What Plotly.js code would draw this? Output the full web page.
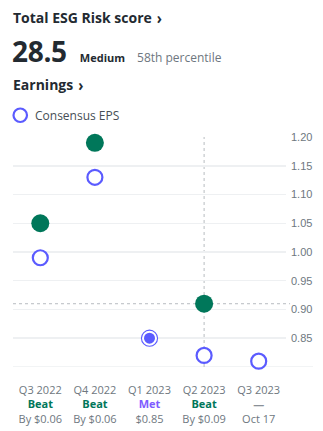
<!DOCTYPE html>
<html>
<head>
<meta charset="utf-8">
<script src="https://cdn.plot.ly/plotly-3.0.1.min.js"></script>
<style>
  html, body { margin:0; padding:0; background:#fff; width:323px; height:431px; overflow:hidden; }
  #wrap { position:relative; width:323px; height:431px; }
  #chart { position:absolute; left:0; top:0; width:323px; height:431px; }
  .hdr { position:absolute; font-family:"Open Sans", sans-serif; color:#232a31; white-space:nowrap; }
  .chev { display:inline-block; transform:scaleY(1.1); margin-left:5px; font-weight:700; }
</style>
</head>
<body>
<div id="wrap">
  <div id="chart"></div>
  <div class="hdr" style="left:13px; top:8px; font-size:14px; font-weight:700;">Total ESG Risk score<span class="chev">›</span></div>
  <div class="hdr" style="left:12px; top:32px; font-size:28px; font-weight:700; letter-spacing:-0.3px;">28.5
    <span style="font-size:11px; font-weight:700; margin-left:6px; letter-spacing:0;">Medium</span>
    <span style="font-size:12px; font-weight:400; color:#6e7780; margin-left:5px; letter-spacing:0;">58th percentile</span>
  </div>
  <div class="hdr" style="left:13px; top:75px; font-size:14px; font-weight:700;">Earnings<span class="chev">›</span></div>
</div>
<script>
// ---- data ----
const quarters   = ["Q3 2022", "Q4 2022", "Q1 2023", "Q2 2023", "Q3 2023"];
const consensus  = [0.99, 1.13, 0.85, 0.82, 0.81];
const actual     = [1.05, 1.19, 0.85, 0.91, null];
const results    = ["Beat", "Beat", "Met", "Beat", "—"];
const subLabels  = ["By $0.06", "By $0.06", "$0.85", "By $0.09", "Oct 17"];
const yTicks     = [0.85, 0.90, 0.95, 1.00, 1.05, 1.10, 1.15, 1.20];
const legendLabel = "Consensus EPS";
const hoverIndex = 3;

// ---- styles ----
const GREEN = "#00775a", BLUE = "#5b5bff", PURPLE = "#7e5cff", GRAY = "#6e7780";
const resultColor = r => r === "Beat" ? GREEN : (r === "Met" ? PURPLE : "#8a9097");
const markerColor = r => r === "Beat" ? GREEN : BLUE;

const xIdx = quarters.map((q, i) => i);
const ticktext = quarters.map((q, i) =>
  q + "<br><span style='color:" + resultColor(results[i]) + "'><b>" + results[i] + "</b></span><br>" + subLabels[i]);

const traces = [
  {
    type: "scatter", mode: "markers", name: legendLabel, showlegend: false,
    x: xIdx, y: consensus, cliponaxis: false, hoverinfo: "skip",
    marker: { size: 15, opacity: 1, color: "#ffffff", line: { color: BLUE, width: 2.2 } }
  },
  {
    type: "scatter", mode: "markers", name: "Actual EPS", showlegend: false,
    x: xIdx, y: actual, cliponaxis: false, hoverinfo: "skip",
    marker: {
      opacity: 1,
      size: results.map(r => r === "Met" ? 13 : 18),
      color: results.map(markerColor),
      line: { color: "#ffffff", width: results.map(r => r === "Met" ? 2 : 0) }
    }
  }
];

// pixel helpers for legend placement (paper coords)
const L = 13, R = 37, T = 137, B = 64, W = 323, H = 431;
const pw = W - L - R, ph = H - T - B;
const px = x => (x - L) / pw;
const py = y => (H - B - y) / ph;

const layout = {
  width: W, height: H,
  margin: { l: L, r: R, t: T, b: B },
  paper_bgcolor: "#fff", plot_bgcolor: "#fff",
  showlegend: false,
  xaxis: {
    range: [-0.5, quarters.length - 0.5], tickmode: "array", tickvals: xIdx, ticktext: ticktext,
    showgrid: false, zeroline: false, showline: false, ticks: "", fixedrange: true,
    ticklabelstandoff: 15, automargin: false,
    tickfont: { family: "Open Sans, sans-serif", size: 11, color: GRAY }
  },
  yaxis: {
    side: "right", range: [0.7999, 1.2001], tickmode: "array", tickvals: yTicks,
    ticktext: yTicks.map(v => v.toFixed(2)), automargin: false,
    showgrid: true, gridcolor: "#eef0f2", gridwidth: 1.5, zeroline: false, showline: false,
    ticks: "", ticklabelstandoff: 4, fixedrange: true,
    tickfont: { family: "Liberation Sans, Arial, sans-serif", size: 11, color: GRAY }
  },
  annotations: [
    { xref: "paper", yref: "paper", x: px(33), y: py(115), xanchor: "left", yanchor: "middle",
      text: legendLabel, showarrow: false,
      font: { family: "Open Sans, sans-serif", size: 12, color: "#464e56" } }
  ],
  shapes: [
    { type: "circle", xref: "paper", yref: "paper", x0: px(13.5), x1: px(27), y0: py(108.5), y1: py(122),
      line: { color: BLUE, width: 2.2 }, fillcolor: "#ffffff" },
    { type: "line", xref: "paper", yref: "y", x0: 0, x1: 1.099, y0: 0.8, y1: 0.8,
      line: { color: "#eef0f2", width: 1.5 }, layer: "below" },
    { type: "line", xref: "x", yref: "paper", x0: xIdx[hoverIndex], x1: xIdx[hoverIndex], y0: 0, y1: 1,
      line: { color: "#b8bcc0", width: 1, dash: "dot" }, layer: "below" },
    { type: "line", xref: "paper", yref: "y", x0: 0, x1: 1.015, y0: actual[hoverIndex], y1: actual[hoverIndex],
      line: { color: "#b8bcc0", width: 1, dash: "dot" }, layer: "below" }
  ]
};

Plotly.newPlot("chart", traces, layout, { displayModeBar: false, staticPlot: true });
</script>
</body>
</html>
